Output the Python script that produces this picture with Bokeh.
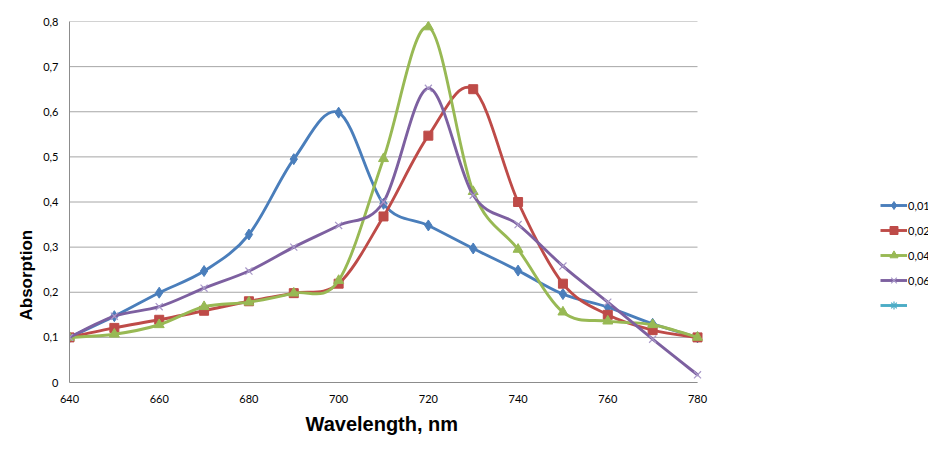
from bokeh.plotting import figure
from bokeh.models import (Legend, LegendItem, FixedTicker, Title, Range1d,
                          ColumnDataSource)
from bokeh.embed import file_html
from bokeh.resources import INLINE

# ---------------- data ----------------
wavelength = [640, 650, 660, 670, 680, 690, 700, 710, 720, 730, 740, 750, 760, 770, 780]
c_001 = [0.100, 0.147, 0.199, 0.247, 0.328, 0.495, 0.598, 0.396, 0.348, 0.297, 0.248, 0.196, 0.167, 0.130, 0.100]
c_002 = [0.100, 0.121, 0.139, 0.159, 0.180, 0.198, 0.219, 0.368, 0.547, 0.650, 0.400, 0.219, 0.150, 0.116, 0.100]
c_004 = [0.100, 0.107, 0.128, 0.168, 0.178, 0.198, 0.226, 0.496, 0.788, 0.423, 0.295, 0.156, 0.136, 0.128, 0.100]
c_006 = [0.100, 0.147, 0.168, 0.209, 0.247, 0.300, 0.348, 0.400, 0.652, 0.415, 0.350, 0.258, 0.178, 0.096, 0.017]
series_labels = ["0,01", "0,02", "0,04", "0,06", ""]

x_ticks = [640, 660, 680, 700, 720, 740, 760, 780]
y_ticks = [0, 0.1, 0.2, 0.3, 0.4, 0.5, 0.6, 0.7, 0.8]
y_tick_labels = ["0", "0,1", "0,2", "0,3", "0,4", "0,5", "0,6", "0,7", "0,8"]

# ---------------- styles ----------------
colors = ["#4A7EBB", "#BE4B48", "#98B954", "#7D60A0", "#4BACC6"]
marker_colors = ["#4A7EBB", "#BE4B48", "#98B954", "#A898C8", "#4BACC6"]
markers = ["diamond", "square", "triangle", "x", "asterisk"]
marker_sizes = [11, 9, 10, 10, 10]
LW = 2.9

W, H = 928, 445
LEFT, TOP = 69, 21
BOTTOM = H - 382
PLOT_W = 628  # pixel width of the 640..780 span
x0_data, x1_data = x_ticks[0], x_ticks[-1]
x_end = x0_data + (x1_data - x0_data) * (W - LEFT) / PLOT_W

p = figure(width=W, height=H, output_backend="svg", toolbar_location=None,
           x_range=Range1d(x0_data, x_end), y_range=Range1d(y_ticks[0], y_ticks[-1]),
           min_border_left=LEFT, min_border_right=0, min_border_top=TOP,
           min_border_bottom=BOTTOM)
p.outline_line_color = None
p.background_fill_color = "white"
p.border_fill_color = "white"

p.xgrid.grid_line_color = None
p.ygrid.grid_line_color = None
# horizontal gridlines limited to the data span
p.segment(x0=[x0_data] * len(y_ticks), x1=[x1_data] * len(y_ticks), y0=y_ticks,
          y1=y_ticks, line_color="#A6A6A6", line_width=1, level="underlay")

p.xaxis.ticker = FixedTicker(ticks=x_ticks)
p.yaxis.ticker = FixedTicker(ticks=y_ticks)
p.yaxis.major_label_overrides = {t: l for t, l in zip(y_ticks, y_tick_labels)}
p.xaxis.bounds = (x0_data, x1_data)
for ax in (p.xaxis[0], p.yaxis[0]):
    ax.axis_line_color = "#8C8C8C"
    ax.major_tick_line_color = None
    ax.minor_tick_line_color = None
    ax.major_tick_out = 0
    ax.major_tick_in = 0
    ax.major_label_text_font = "Lato"
    ax.major_label_text_font_size = "11px"
    ax.major_label_text_color = "#000000"
p.yaxis.major_label_standoff = 11
p.xaxis.major_label_standoff = 12

title_style = dict(text_font="Liberation Sans", text_font_style="bold",
                   text_color="#000000", align="left")
p.add_layout(Title(text="Wavelength, nm", offset=236, standoff=11,
                   text_font_size="20px", **title_style), "below")
p.add_layout(Title(text="Absorption", offset=62, standoff=10,
                   text_font_size="17px", **title_style), "left")


def smooth(xs, ys):
    n = len(xs)
    d = dict(x0=[], y0=[], x1=[], y1=[], cx0=[], cy0=[], cx1=[], cy1=[])
    for i in range(n - 1):
        a = max(i - 1, 0)
        b = min(i + 2, n - 1)
        d["x0"].append(xs[i]); d["y0"].append(ys[i])
        d["x1"].append(xs[i + 1]); d["y1"].append(ys[i + 1])
        d["cx0"].append(xs[i] + (xs[i + 1] - xs[a]) / 6.0)
        d["cy0"].append(ys[i] + (ys[i + 1] - ys[a]) / 6.0)
        d["cx1"].append(xs[i + 1] - (xs[b] - xs[i]) / 6.0)
        d["cy1"].append(ys[i + 1] - (ys[b] - ys[i]) / 6.0)
    return ColumnDataSource(d)


nan = float("nan")
all_series = [c_001, c_002, c_004, c_006]
items = []
for k, ys in enumerate(all_series):
    src = smooth(wavelength, ys)
    p.bezier(x0="x0", y0="y0", x1="x1", y1="y1", cx0="cx0", cy0="cy0",
             cx1="cx1", cy1="cy1", source=src, line_color=colors[k],
             line_width=LW, line_cap="round")
    if markers[k] == "x":
        sc = p.scatter(wavelength, ys, marker="x", size=marker_sizes[k],
                       line_color=marker_colors[k], line_width=1.2)
    else:
        sc = p.scatter(wavelength, ys, marker=markers[k], size=marker_sizes[k],
                       fill_color=marker_colors[k], line_color=marker_colors[k])
    lg_line = p.line([nan, nan], [nan, nan], line_color=colors[k], line_width=LW)
    items.append(LegendItem(label=series_labels[k], renderers=[lg_line, sc]))

# empty fifth series (legend only)
lg5 = p.line([nan, nan], [nan, nan], line_color=colors[4], line_width=LW)
sc5 = p.scatter([nan], [nan], marker="asterisk", size=marker_sizes[4],
                line_color=marker_colors[4], line_width=1.2)
items.append(LegendItem(label=series_labels[4], renderers=[lg5, sc5]))

legend = Legend(items=items, location=(811, 67), glyph_width=27, glyph_height=20,
                spacing=5, padding=0, margin=0, label_standoff=1,
                label_text_font="Lato", label_text_font_size="11px",
                label_text_color="#000000", border_line_color=None,
                background_fill_alpha=0)
p.add_layout(legend, "center")

open("out.html", "w").write(file_html(p, INLINE))
